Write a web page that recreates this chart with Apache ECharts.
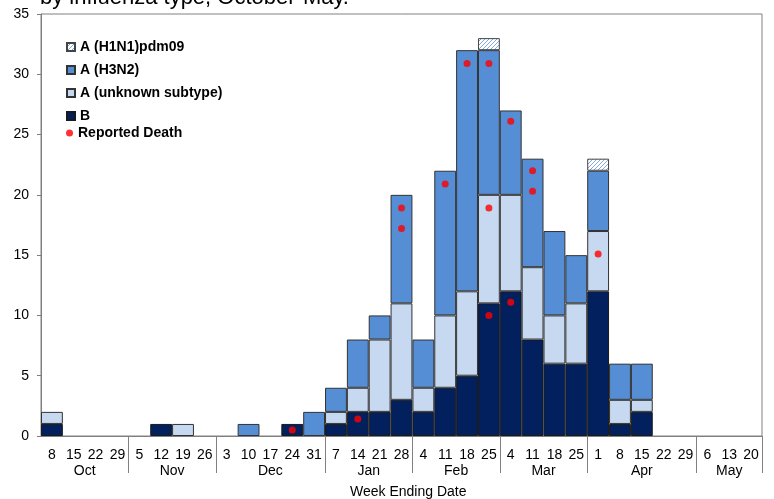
<!DOCTYPE html>
<html>
<head>
<meta charset="utf-8">
<script src="https://cdn.jsdelivr.net/npm/echarts@6/dist/echarts.min.js"></script>
<style>
  html, body { margin: 0; padding: 0; background: #fff; }
  #main { width: 774px; height: 499px; }
</style>
</head>
<body>
<div id="main"></div>
<script>
// week ending dates (day of month) and the months they fall in
var weekDays = [8,15,22,29, 5,12,19,26, 3,10,17,24,31, 7,14,21,28, 4,11,18,25, 4,11,18,25, 1,8,15,22,29, 6,13,20];
var monthNames = ['Oct','Nov','Dec','Jan','Feb','Mar','Apr','May'];
var monthWeeks = [4,4,5,4,4,4,5,3];

// counts per week, bottom of the stack first
var typeB       = [1,0,0,0, 0,1,0,0, 0,0,0,1,0, 1,2,2,3, 2,4,5,11, 12,8,6,6, 12,1,2,0,0, 0,0,0];
var typeUnknown = [1,0,0,0, 0,0,1,0, 0,0,0,0,0, 1,2,6,8, 2,6,7,9, 8,6,4,5, 5,2,1,0,0, 0,0,0];
var typeH3N2    = [0,0,0,0, 0,0,0,0, 0,1,0,0,2, 2,4,2,9, 4,12,20,12, 7,9,7,4, 5,3,3,0,0, 0,0,0];
var typeH1N1    = [0,0,0,0, 0,0,0,0, 0,0,0,0,0, 0,0,0,0, 0,0,0,1, 0,0,0,0, 1,0,0,0,0, 0,0,0];

// reported deaths: week index and height of the dot
var deathWeek  = [11, 14, 16, 16, 18, 19, 20, 20, 20, 21, 21, 22, 22, 25];
var deathValue = [0.5, 1.4, 18.9, 17.2, 20.9, 30.9, 30.9, 18.9, 10.0, 26.1, 11.1, 22.0, 20.3, 15.1];

var FONT = 'Liberation Sans, Arial, sans-serif';

// week categories (unique names, label shows only the day)
var weeks = [];
var m = 0, k = 0;
weekDays.forEach(function(d, i){
    weeks.push(monthNames[m] + ' ' + d);
    k++;
    if(k >= monthWeeks[m]){ m++; k = 0; }
});

// month axis: half-week slots so labels can sit between weeks
var halfSlots = [];
for(var i = 0; i <= weekDays.length * 2; i++) halfSlots.push(String(i));
var monthCenterHalf = {}, monthEdge = {};
var pos = 0;
monthWeeks.forEach(function(n, idx){
    monthCenterHalf[pos * 2 + n] = monthNames[idx];
    pos += n;
    monthEdge[pos * 2] = true;
});

function nz(arr){ // zero weeks draw nothing
    return arr.map(function(v){ return v === 0 ? null : v; });
}

// hatch for H1N1
var hatch = document.createElement('canvas');
hatch.width = 4; hatch.height = 4;
var hc = hatch.getContext('2d');
hc.fillStyle = '#ffffff';
hc.fillRect(0, 0, 4, 4);
hc.strokeStyle = '#7FA8DE';
hc.lineWidth = 1;
hc.beginPath();
hc.moveTo(0, 4); hc.lineTo(4, 0);
hc.moveTo(-1, 1); hc.lineTo(1, -1);
hc.moveTo(3, 5); hc.lineTo(5, 3);
hc.stroke();

var chart = echarts.init(document.getElementById('main'), null, {renderer: 'canvas'});

var barBase = {
    type: 'bar',
    stack: 'flu',
    barCategoryGap: 0,
    xAxisIndex: 0,
    yAxisIndex: 0
};

var option = {
    animation: false,
    textStyle: { fontFamily: FONT },
    grid: {
        left: 41, right: 12, top: 14, bottom: 63,
        show: true, borderColor: '#808080', borderWidth: 1
    },
    legend: [
        {
            orient: 'vertical',
            left: 66, top: 40,
            padding: 0,
            icon: 'rect',
            itemWidth: 8, itemHeight: 8,
            itemGap: 9,
            textStyle: { fontFamily: FONT, fontSize: 14, fontWeight: 'bold', color: '#000' },
            data: ['A (H1N1)pdm09', 'A (H3N2)', 'A (unknown subtype)', 'B']
        },
        {
            orient: 'vertical',
            left: 66, top: 126,
            padding: 0,
            itemWidth: 7, itemHeight: 7,
            textStyle: { fontFamily: FONT, fontSize: 14, fontWeight: 'bold', color: '#000' },
            data: [{ name: 'Reported Death', icon: 'circle' }]
        }
    ],
    xAxis: [
        {
            type: 'category',
            data: weeks,
            position: 'bottom',
            axisLine: { lineStyle: { color: '#808080' } },
            axisTick: { show: false },
            axisLabel: {
                interval: 0,
                margin: 12,
                fontSize: 14,
                color: '#000',
                fontFamily: FONT,
                formatter: function(v){ return v.split(' ')[1]; }
            },
            splitLine: { show: false }
        },
        {
            type: 'category',
            data: halfSlots,
            position: 'bottom',
            boundaryGap: false,
            axisLine: { show: false },
            axisTick: {
                show: true,
                length: 37,
                interval: function(index){ return !!monthEdge[index]; },
                lineStyle: { color: '#808080' }
            },
            axisLabel: {
                interval: function(index){ return !!monthCenterHalf[index]; },
                margin: 28,
                fontSize: 14,
                color: '#000',
                fontFamily: FONT,
                formatter: function(v){ return monthCenterHalf[v] || ''; }
            },
            splitLine: { show: false }
        }
    ],
    yAxis: {
        type: 'value',
        min: 0, max: 35, interval: 5,
        axisLine: { show: true, lineStyle: { color: '#808080' } },
        axisTick: { show: true, length: 4, lineStyle: { color: '#808080' } },
        axisLabel: { fontSize: 14, color: '#000', margin: 12, fontFamily: FONT },
        splitLine: { show: false }
    },
    series: [
        Object.assign({}, barBase, {
            name: 'B',
            data: nz(typeB),
            itemStyle: { color: '#03205E', borderColor: '#1a1a1a', borderWidth: 1 }
        }),
        Object.assign({}, barBase, {
            name: 'A (unknown subtype)',
            data: nz(typeUnknown),
            itemStyle: { color: '#C6D9F0', borderColor: '#333', borderWidth: 1 }
        }),
        Object.assign({}, barBase, {
            name: 'A (H3N2)',
            data: nz(typeH3N2),
            itemStyle: { color: '#558ED5', borderColor: '#333', borderWidth: 1 }
        }),
        Object.assign({}, barBase, {
            name: 'A (H1N1)pdm09',
            data: nz(typeH1N1),
            itemStyle: { color: { image: hatch, repeat: 'repeat' }, borderColor: '#444', borderWidth: 1 }
        }),
        {
            name: 'Reported Death',
            type: 'scatter',
            xAxisIndex: 0,
            yAxisIndex: 0,
            symbol: 'circle',
            symbolSize: 7,
            itemStyle: { color: '#FF0000' },
            z: 5,
            data: deathWeek.map(function(w, i){ return [w, deathValue[i]]; })
        }
    ],
    graphic: [
        {
            type: 'text',
            left: 40, top: -13,
            style: {
                text: 'by influenza type, October-May.',
                font: '22px ' + FONT,
                fill: '#000'
            }
        },
        {
            type: 'text',
            left: 350, top: 485,
            style: {
                text: 'Week Ending Date',
                font: '14px ' + FONT,
                fill: '#000'
            }
        }
    ]
};

chart.setOption(option);
</script>
</body>
</html>
